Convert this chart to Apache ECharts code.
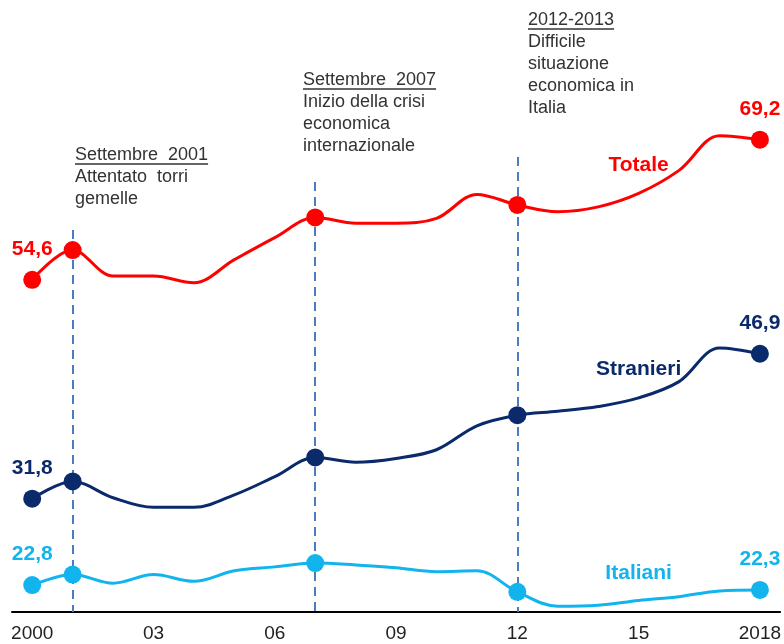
<!DOCTYPE html>
<html><head><meta charset="utf-8">
<script src="https://cdn.jsdelivr.net/npm/echarts@6/dist/echarts.min.js"></script>
<style>html,body{margin:0;padding:0;background:#fff}#c{width:784px;height:644px}</style>
</head><body><div id="c"></div>
<script>
const years = ['2000','2001','2002','2003','2004','2005','2006','2007','2008','2009','2010','2011','2012','2013','2014','2015','2016','2017','2018'];
const tickYears = ['2000','2003','2006','2009','2012','2015','2018'];
const tickLabels = ['2000','03','06','09','12','15','2018'];
const totale    = [54.6,57.7,55.0,55.0,54.3,56.7,59.0,61.1,60.5,60.5,61.0,63.5,62.4,61.7,62.2,63.6,66.0,69.6,69.2];
const stranieri = [31.8,33.6,31.9,30.9,30.9,32.2,34.1,36.1,35.6,36.0,36.9,39.4,40.5,40.9,41.4,42.3,44.0,47.5,46.9];
const italiani  = [22.8,23.9,23.0,23.9,23.2,24.3,24.7,25.1,24.9,24.6,24.2,24.3,22.1,20.6,20.7,21.2,21.6,22.2,22.3];
const markerYears = ['2000','2001','2007','2012','2018'];
const labelYears = ['2000','2018'];
const eventYears = ['2001','2007','2012'];
const eventTops = [59.8,64.8,67.4];
const eventTitles = ['Settembre  2001','Settembre  2007','2012-2013'];
const eventTexts = [['Attentato  torri','gemelle'],['Inizio della crisi','economica','internazionale'],['Difficile','situazione','economica in','Italia']];
const seriesNames = ['Totale','Stranieri','Italiani'];
const seriesNamePos = [['2015',66.5],['2015',45.3],['2015',24.0]];

const colors = ['#FF0000','#0B2A6B','#12B4EE'];
const FONT = '"Liberation Sans", Arial, sans-serif';
const chart = echarts.init(document.getElementById('c'));

function fmt(v){ return String(v).replace('.',','); }
function buildData(arr){
  return arr.map((v,i)=>{
    const y = years[i];
    const d = {value: v};
    if (markerYears.includes(y)) { d.symbol='circle'; d.symbolSize=18; }
    else { d.symbol='none'; }
    if (labelYears.includes(y)) { d.label = {show:true, formatter: fmt(v)}; }
    return d;
  });
}
const allSeries = [totale, stranieri, italiani].map((arr,k)=>({
  type:'line', name: seriesNames[k], data: buildData(arr), smooth:0.35,
  lineStyle:{color:colors[k], width:3}, itemStyle:{color:colors[k]},
  label:{show:false, position:'top', distance:11, color:colors[k], fontFamily:FONT, fontWeight:'bold', fontSize:21},
  z: 5,
  markPoint:{symbol:'circle', symbolSize:2, itemStyle:{color:'rgba(0,0,0,0)'}, silent:true,
    data:[{coord:seriesNamePos[k], label:{show:true, formatter:seriesNames[k], color:colors[k], fontFamily:FONT, fontWeight:'bold', fontSize:21, position:'inside'}}]},
  emphasis:{disabled:true}, animation:false
}));
allSeries[0].markLine = {
  symbol:'none', silent:true, label:{show:false},
  lineStyle:{color:'#4A7CC4', width:2, type:[9,6]},
  data: eventYears.map((y,i)=>[{coord:[y,eventTops[i]]},{coord:[y,20]}])
};

chart.setOption({
  animation:false,
  grid:{left:12, right:2, top:36, bottom:32},
  xAxis:{type:'category', data:years, boundaryGap:true,
    axisLine:{lineStyle:{color:'#000', width:2}}, axisTick:{show:false},
    axisLabel:{interval:0, margin:12, color:'#222', fontSize:19, fontFamily:FONT,
      formatter:(v)=>{const i=tickYears.indexOf(v); return i>=0?tickLabels[i]:'';}}},
  yAxis:{type:'value', min:20, max:80, show:false, splitLine:{show:false}},
  series: allSeries
});

// annotations
const annPos = [[75,146],[303,71],[528,11]];
const ctx = document.createElement('canvas').getContext('2d');
ctx.font = '18px ' + FONT;
const graphics = [];
eventTitles.forEach((t,i)=>{
  const [x,y] = annPos[i];
  const w = ctx.measureText(t).width;
  graphics.push({type:'text', left:x, top:y, style:{text:t, fill:'#333', font:'18px '+FONT}});
  graphics.push({type:'line', shape:{x1:x, y1:y+18, x2:x+w, y2:y+18}, style:{stroke:'#333', lineWidth:1.3}});
  eventTexts[i].forEach((line,j)=>{
    graphics.push({type:'text', left:x, top:y+22*(j+1), style:{text:line, fill:'#333', font:'18px '+FONT}});
  });
});
chart.setOption({graphic:graphics});
</script></body></html>
